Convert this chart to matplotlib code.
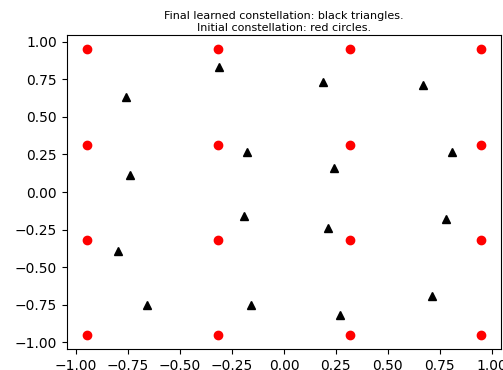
import matplotlib
matplotlib.use('Agg')
import matplotlib.pyplot as plt
import numpy as np

# constelacion inicial 16-QAM (circulos rojos)
levels = [-0.949, -0.316, 0.316, 0.949]
init_x = [a for a in levels for b in levels]
init_y = [b for a in levels for b in levels]

# constelacion final aprendida (triangulos negros)
final_x = [-0.76, -0.31, 0.19, 0.67, -0.74, -0.18, 0.24, 0.81,
           -0.19, 0.21, 0.78, -0.80, -0.66, -0.16, 0.27, 0.71]
final_y = [0.635, 0.83, 0.735, 0.715, 0.11, 0.265, 0.16, 0.265,
           -0.16, -0.24, -0.18, -0.39, -0.75, -0.755, -0.815, -0.695]

fig = plt.figure(figsize=(5.03, 3.70), dpi=100)
ax = fig.add_subplot(111)
fig.subplots_adjust(left=0.133, right=0.996, top=0.905, bottom=0.057)

ax.plot(init_x, init_y, 'ro', markersize=6, linestyle='none')
ax.plot(final_x, final_y, 'k^', markersize=6, linestyle='none')

ax.set_title('Final learned constellation: black triangles.\nInitial constellation: red circles.',
             fontsize=8, pad=3)
ax.tick_params(labelsize=10)

fig.savefig('out.png', dpi=100)
